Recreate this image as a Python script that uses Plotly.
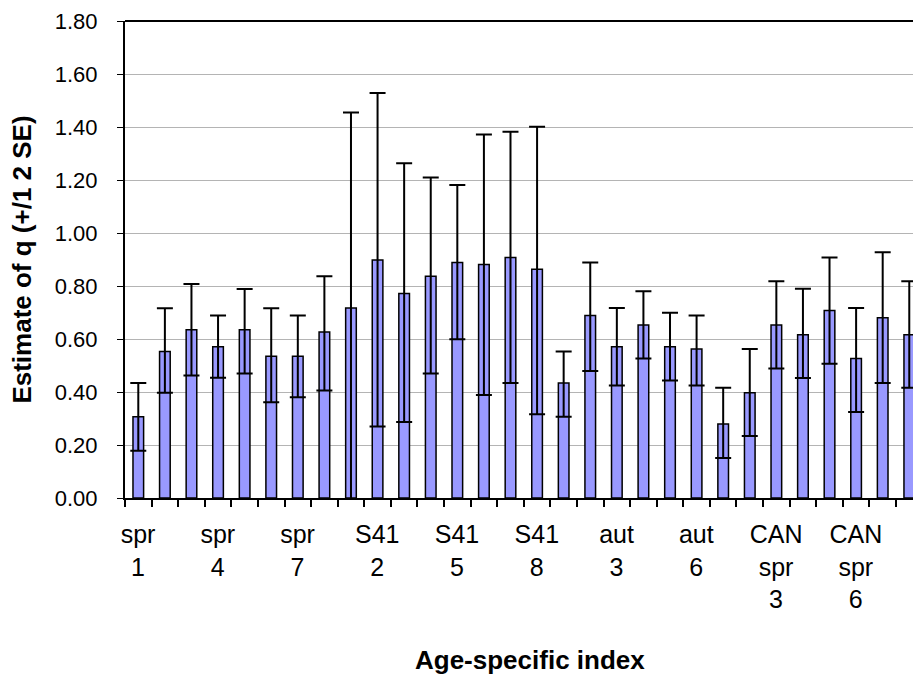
import plotly.graph_objects as go

# Survey index series, one bar per age-specific index
categories = [
    "spr 1", "spr 2", "spr 3", "spr 4", "spr 5", "spr 6", "spr 7", "spr 8",
    "S41 1", "S41 2", "S41 3", "S41 4", "S41 5", "S41 6", "S41 7", "S41 8",
    "aut 1", "aut 2", "aut 3", "aut 4", "aut 5", "aut 6",
    "CAN spr 1", "CAN spr 2", "CAN spr 3", "CAN spr 4", "CAN spr 5",
    "CAN spr 6", "CAN spr 7", "CAN spr 8",
]

# Estimated catchability q
q_est = [
    0.307, 0.553, 0.635, 0.571, 0.635, 0.535, 0.535, 0.626,
    0.717, 0.898, 0.772, 0.837, 0.889, 0.881, 0.908, 0.863,
    0.434, 0.689, 0.571, 0.653, 0.571, 0.562,
    0.279, 0.397, 0.653, 0.616, 0.708, 0.526, 0.680, 0.616,
]

# Upper and lower limits (+/- 2 SE)
q_upper = [
    0.434, 0.716, 0.808, 0.689, 0.789, 0.716, 0.689, 0.837,
    1.455, 1.528, 1.263, 1.209, 1.181, 1.372, 1.382, 1.401,
    0.553, 0.889, 0.717, 0.780, 0.699, 0.689,
    0.416, 0.562, 0.818, 0.790, 0.908, 0.717, 0.927, 0.818,
]
q_lower = [
    0.178, 0.397, 0.462, 0.454, 0.470, 0.361, 0.380, 0.406,
    -0.020, 0.270, 0.287, 0.470, 0.599, 0.389, 0.434, 0.316,
    0.307, 0.479, 0.425, 0.526, 0.443, 0.425,
    0.151, 0.234, 0.489, 0.453, 0.507, 0.325, 0.434, 0.416,
]

# Only every third index is labelled on the category axis
tick_labels = {
    "spr 1": "spr<br>1",
    "spr 4": "spr<br>4",
    "spr 7": "spr<br>7",
    "S41 2": "S41<br>2",
    "S41 5": "S41<br>5",
    "S41 8": "S41<br>8",
    "aut 3": "aut<br>3",
    "aut 6": "aut<br>6",
    "CAN spr 3": "CAN<br>spr<br>3",
    "CAN spr 6": "CAN<br>spr<br>6",
}

positions = list(range(len(categories)))

# Tick marks sit on the left boundary of every category; a labelled
# category carries its text on that boundary, shifted to the bar centre.
boundary_vals = [p - 0.5 for p in positions]
boundary_text = [tick_labels.get(name, "") for name in categories]

err_plus = [u - e for u, e in zip(q_upper, q_est)]
err_minus = [e - l for e, l in zip(q_est, q_lower)]

FONT = "Arial, Liberation Sans, sans-serif"
X_RANGE = [-0.5, 29.14]
PLOT_W = 913 - 125
HALF_CATEGORY_PX = round(PLOT_W / (X_RANGE[1] - X_RANGE[0]) / 2)

fig = go.Figure()
fig.add_trace(
    go.Bar(
        x=positions,
        y=q_est,
        width=0.4,
        marker=dict(color="#9999FF", line=dict(color="black", width=1.5)),
        error_y=dict(
            type="data",
            symmetric=False,
            array=err_plus,
            arrayminus=err_minus,
            color="black",
            thickness=2,
            width=8,
        ),
        hovertext=categories,
        showlegend=False,
    )
)

fig.update_layout(
    width=913,
    height=679,
    margin=dict(l=125, r=0, t=21, b=181),
    paper_bgcolor="white",
    plot_bgcolor="white",
    font=dict(family=FONT, color="black"),
    bargap=0.6,
    xaxis=dict(
        range=X_RANGE,
        showline=True,
        linecolor="black",
        linewidth=2,
        showgrid=False,
        zeroline=False,
        tickmode="array",
        tickvals=boundary_vals,
        ticktext=boundary_text,
        ticks="outside",
        ticklen=7,
        tickwidth=1.5,
        tickcolor="black",
        tickangle=0,
        tickfont=dict(family=FONT, size=25, color="black"),
        ticklabelstandoff=6,
        ticklabelshift=HALF_CATEGORY_PX,
    ),
    yaxis=dict(
        range=[0, 1.8],
        tickmode="linear",
        tick0=0,
        dtick=0.2,
        tickformat=".2f",
        showline=True,
        linecolor="black",
        linewidth=2,
        showgrid=True,
        gridcolor="#b4b4b4",
        gridwidth=1,
        zeroline=False,
        ticks="outside",
        ticklen=6,
        tickwidth=1,
        tickcolor="black",
        tickfont=dict(family=FONT, size=22, color="black"),
        ticklabelstandoff=15,
        title=dict(
            text="Estimate of q (+/1 2 SE)",
            font=dict(family=FONT, size=26, weight="bold", color="black"),
            standoff=16,
        ),
    ),
    # top edge of the plot-area frame
    shapes=[
        dict(
            type="line",
            xref="paper",
            yref="paper",
            x0=0,
            x1=1,
            y0=1,
            y1=1,
            line=dict(color="black", width=2),
        )
    ],
    annotations=[
        dict(
            text="Age-specific index",
            xref="paper",
            yref="paper",
            x=0.514,
            y=0,
            yshift=-162,
            xanchor="center",
            yanchor="middle",
            showarrow=False,
            font=dict(family=FONT, size=26, weight="bold", color="black"),
        )
    ],
)

fig.write_html("out.html")
